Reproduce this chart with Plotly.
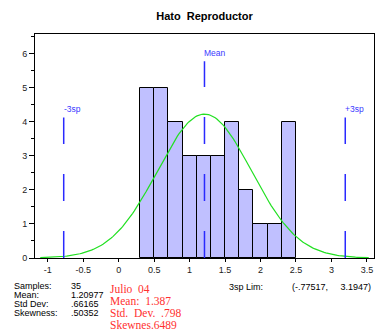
import numpy as np
import plotly.graph_objects as go

# ---- data ----
bin_left = [0.3, 0.5, 0.7, 0.9, 1.1, 1.3, 1.5, 1.7, 1.9, 2.1, 2.3]
counts = [5, 5, 4, 3, 3, 3, 4, 2, 1, 1, 4]
bin_width = 0.2
n_samples = 35
mean = 1.20977
std_dev = 0.66165
skewness = 0.50352
lim_lo = -0.77517
lim_hi = 3.1947
ref_lines = [lim_lo, mean, lim_hi]
ref_tops = [4.12, 5.77, 4.12]
ref_labels = ["-3sp", "Mean", "+3sp"]
stats_labels = ["Samples:", "Mean:", "Std Dev:", "Skewness:"]
stats_values = ["35", "1.20977", ".66165", ".50352"]
red_notes = ["Julio  04", "Mean:  1.387", "Std.  Dev.  .798", "Skewnes.6489"]
x_ticks = [-1, -0.5, 0, 0.5, 1, 1.5, 2, 2.5, 3, 3.5]

W, H = 379, 334
L, R, T, B = 35, 374, 34, 258

fig = go.Figure()

fig.add_trace(go.Bar(
    x=[b + bin_width / 2 for b in bin_left], y=counts, width=bin_width,
    marker=dict(color="#c0c0ff", line=dict(color="black", width=1)),
    showlegend=False, hoverinfo="skip"))

# fitted normal curve from stated statistics
xs = np.linspace(mean - 3.5 * std_dev, mean + 3.5 * std_dev, 200)
ys = n_samples * bin_width / (std_dev * np.sqrt(2 * np.pi)) * np.exp(-0.5 * ((xs - mean) / std_dev) ** 2)
fig.add_trace(go.Scatter(x=xs, y=ys, mode="lines",
                         line=dict(color="#22e022", width=1.2),
                         showlegend=False, hoverinfo="skip"))

for xv, top, lab in zip(ref_lines, ref_tops, ref_labels):
    fig.add_trace(go.Scatter(x=[xv, xv], y=[0, top], mode="lines",
                             line=dict(color="#2a2aff", width=1.5, dash="27px,30px"),
                             showlegend=False, hoverinfo="skip"))
    fig.add_annotation(x=xv, y=top + 0.25, text=lab, showarrow=False,
                       xanchor="left", yanchor="middle", xshift=-2,
                       font=dict(family="Liberation Sans, Arial", size=8.5, color="#3a3aff"))

def px2p(px, py):
    return (px - L) / (R - L), (B - py) / (B - T)

def note(px, py, text, size=9, color="black", family="Liberation Sans, Arial"):
    xp, yp = px2p(px, py)
    fig.add_annotation(x=xp, y=yp, xref="paper", yref="paper", text=text,
                       showarrow=False, xanchor="left", yanchor="middle",
                       font=dict(family=family, size=size, color=color))

for i, (lab, val) in enumerate(zip(stats_labels, stats_values)):
    note(12, 286 + i * 9, lab)
    note(69, 286 + i * 9, val)

for i, t in enumerate(red_notes):
    note(108, 289 + i * 12, t, size=11.5, color="#ff3030",
         family="Liberation Serif, Times New Roman")

note(227, 287, "3sp Lim:")
note(290, 287, "(-.77517,     3.1947)")

fig.update_layout(
    width=W, height=H,
    margin=dict(l=L, r=W - R, t=T, b=H - B),
    paper_bgcolor="white", plot_bgcolor="white",
    title=dict(text="<b>Hato  Reproductor</b>", x=(L + R) / 2 / W, xanchor="center",
               y=1 - 16 / H, yanchor="middle",
               font=dict(family="Liberation Sans, Arial", size=11, color="black")),
    bargap=0,
    font=dict(family="Liberation Sans, Arial", size=9, color="#222"),
)
fig.update_xaxes(range=[-1.18, 3.6], tickvals=x_ticks,
                 ticktext=[("%g" % v) for v in x_ticks],
                 ticks="outside", ticklen=3, tickcolor="black",
                 showline=True, linecolor="black", linewidth=1, mirror=True,
                 showgrid=False, zeroline=False, fixedrange=True)
fig.update_yaxes(range=[0, 6.57], dtick=1, tick0=0,
                 ticks="outside", ticklen=5, tickcolor="black",
                 minor=dict(dtick=0.5, ticks="outside", ticklen=3, tickcolor="black"),
                 showline=True, linecolor="black", linewidth=1, mirror=True,
                 showgrid=False, zeroline=False, fixedrange=True)

fig.write_html("out.html")
